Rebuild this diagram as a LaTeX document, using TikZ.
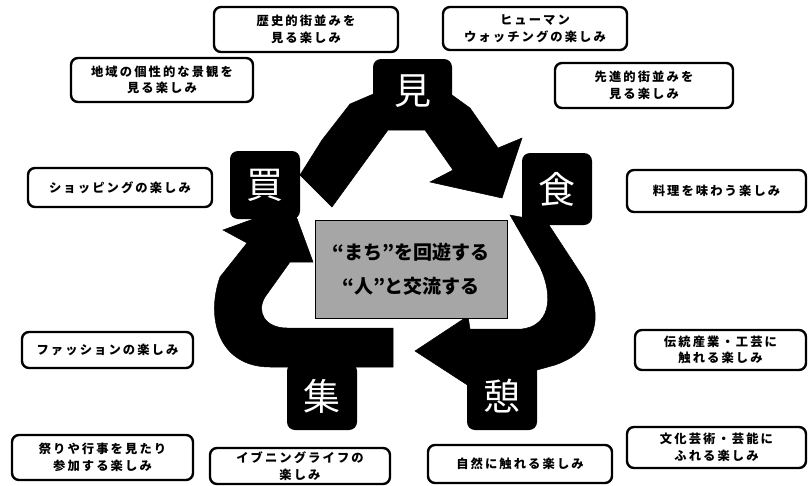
\documentclass[tikz,border=0pt]{standalone}
\usepackage{fontspec}
\newfontfamily\jp{Noto Sans CJK JP}
\newfontfamily\jpsp[LetterSpace=17]{Noto Sans CJK JP}
\begin{document}
\begin{tikzpicture}[x=1pt,y=-1pt,
  lbl/.style={draw=black, line width=2.4pt, rounded corners=7pt, fill=white,
    align=center, inner sep=0pt, font=\jpsp\bfseries\fontsize{12.3}{16.5}\selectfont},
  kanji/.style={fill=black, rounded corners=8pt, text=white, inner sep=0pt,
    minimum width=70pt, minimum height=68pt, font=\jp\fontsize{37}{37}\selectfont},
  band/.style={fill=black, draw=black, line width=0.5pt, line join=miter},
  core/.style={draw=black, line width=1pt, fill=black!35, align=center, inner sep=0pt,
    minimum width=192pt, minimum height=98pt, font=\jp\bfseries\fontsize{19}{34}\selectfont}]
\useasboundingbox (0,0) rectangle (809,485);

% ---- arrows (bands) ----
% top: from 買 over 見 to 食
\fill[band] (300,175) -- (322,140) -- (350,104) -- (378,92) -- (452,95) -- (470,108)
  -- (498,148) -- (522,138) -- (502,198) -- (430,182) -- (453,170) -- (425,130)
  -- (388,130) -- (332,207) -- cycle;
% right: from 食 down to 憩
\fill[band] (510,215) -- (547,222) -- (583,277)
  .. controls (605,315) and (598,350) .. (555,365) -- (537,370) -- (472,388)
  -- (415,351) -- (468,316) -- (470,329) -- (522,329)
  .. controls (548,326) and (555,300) .. (540,267) -- cycle;
% left: from 集 up to 買
\fill[band] (223,230) -- (292,205) -- (313,262) -- (290,262) -- (265,297)
  .. controls (256,312) and (265,328) .. (287,328) -- (393,328) -- (393,367)
  -- (270,367) .. controls (220,367) and (205,320) .. (220,277) -- (247,243) -- cycle;

% ---- centre ----
\node[core] (c) at (411,269) {“まち”を回遊する\\“人”と交流する};

% ---- kanji squares ----
\node[kanji, minimum width=79pt, minimum height=64pt] (mi) at (412.5,91) {見};
\node[kanji] (ka) at (265,185) {買};
\node[kanji, minimum height=72pt] (sh) at (557,189) {食};
\node[kanji, minimum height=67pt] (sy) at (322,396.5) {集};
\node[kanji, minimum height=67pt] (ik) at (502,396.5) {憩};

% ---- labels ----
\node[lbl, minimum width=184pt, minimum height=45pt] (l1) at (306,29.5) {歴史的街並みを\\見る楽しみ};
\node[lbl, minimum width=182pt, minimum height=44pt] (l2) at (162,80) {地域の個性的な景観を\\見る楽しみ};
\node[lbl, minimum width=184pt, minimum height=43pt] (l3) at (535,28.5) {ヒューマン\\ウォッチングの楽しみ};
\node[lbl, minimum width=178pt, minimum height=45pt] (l4) at (644,85.5) {先進的街並みを\\見る楽しみ};
\node[lbl, minimum width=184pt, minimum height=39pt] (l5) at (120,187.5) {ショッピングの楽しみ};
\node[lbl, minimum width=179pt, minimum height=42pt] (l6) at (716.5,191) {料理を味わう楽しみ};
\node[lbl, minimum width=171pt, minimum height=36pt] (l7) at (107.5,350) {ファッションの楽しみ};
\node[lbl, minimum width=181pt, minimum height=45pt] (l8) at (102.5,457.5) {祭りや行事を見たり\\参加する楽しみ};
\node[lbl, minimum width=180pt, minimum height=36pt] (l9) at (300,466) {イブニングライフの\\楽しみ};
\node[lbl, minimum width=171pt, minimum height=40pt] (l10) at (720.5,350) {伝統産業・工芸に\\触れる楽しみ};
\node[lbl, minimum width=184pt, minimum height=38pt] (l11) at (520,464) {自然に触れる楽しみ};
\node[lbl, minimum width=179pt, minimum height=41pt] (l12) at (716.5,447.5) {文化芸術・芸能に\\ふれる楽しみ};
\end{tikzpicture}
\end{document}
